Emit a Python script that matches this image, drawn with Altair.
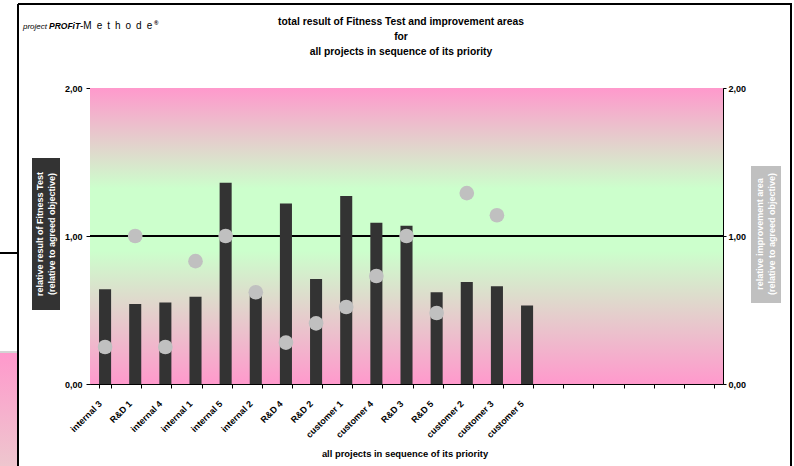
import altair as alt
import pandas as pd

# ---- data -------------------------------------------------------------
projects = ["internal 3", "R&D 1", "internal 4", "internal 1", "internal 5",
            "internal 2", "R&D 4", "R&D 2", "customer 1", "customer 4",
            "R&D 3", "R&D 5", "customer 2", "customer 3", "customer 5"]
fitness = [0.64, 0.54, 0.55, 0.59, 1.36, 0.60, 1.22, 0.71, 1.27, 1.09,
           1.07, 0.62, 0.69, 0.66, 0.53]
improvement = [0.25, 1.00, 0.25, 0.83, 1.00, 0.62, 0.28, 0.41, 0.52, 0.73,
               1.00, 0.48, 1.29, 1.14, None]
# unused category slots on the right of the axis
empty_slots = ["_1", "_2", "_3", "_4", "_5", "_6"]
y_ticks = [0, 1, 2]

title_lines = ["total result of Fitness Test and  improvement areas", "for",
               "all projects in sequence of its priority"]
x_title = "all projects in sequence of its priority"
left_title = ["relative result of Fitness Test", "(relative to agreed objective)"]
right_title = ["relative improvement area", "(relative to agreed objective)"]

# ---- layout -----------------------------------------------------------
W, H = 633, 296
FONT = "Liberation Sans"
PINK = "#FF99CC"
GREEN = "#CCFFCC"

bars_df = pd.DataFrame({"project": projects, "fitness": fitness})
dots_df = pd.DataFrame({"project": projects, "improvement": improvement}).dropna()
one = pd.DataFrame({"v": [1]})

domain = projects + empty_slots
y_scale = alt.Scale(domain=[0, 2], nice=False)
num_label = "replace(format(datum.value, '.2f'), '.', ',')"

x_enc = alt.X(
    "project:N",
    sort=domain,
    scale=alt.Scale(domain=domain, paddingInner=0.6, paddingOuter=0.3),
    axis=alt.Axis(
        title=None, labelAngle=-45, labelFontSize=9, labelFontWeight="bold",
        labelFont=FONT, labelColor="black", tickBand="extent", tickSize=4,
        labelPadding=11, labelOffset=-8, domainColor="black", tickColor="black",
        labelExpr="slice(datum.label, 0, 1) == '_' ? '' : datum.label",
    ),
)

# plot-area gradient fill
background = alt.Chart(one).mark_rect(
    fill=alt.LinearGradient(
        gradient="linear", x1=0, x2=0, y1=0, y2=1,
        stops=[alt.GradientStop(offset=0, color=PINK),
               alt.GradientStop(offset=0.34, color=GREEN),
               alt.GradientStop(offset=0.55, color=GREEN),
               alt.GradientStop(offset=1, color=PINK)],
    )
).encode(x=alt.value(0), x2=alt.value(W), y=alt.value(0), y2=alt.value(H))

target_line = alt.Chart(one).mark_rule(color="black", strokeWidth=2).encode(
    y=alt.Y("v:Q", scale=y_scale, axis=None)
)

bars = alt.Chart(bars_df).mark_bar(color="#333333").encode(
    x=x_enc,
    y=alt.Y("fitness:Q", scale=y_scale,
            axis=alt.Axis(orient="left", values=y_ticks, title=None, grid=False,
                          labelExpr=num_label, labelFont=FONT, labelFontSize=9,
                          labelFontWeight="bold", labelColor="black", tickSize=4,
                          labelPadding=4, domainColor="black", tickColor="black")),
)

dots = alt.Chart(dots_df).mark_circle(size=215, color="#C0C0C0", opacity=1).encode(
    x=x_enc,
    y=alt.Y("improvement:Q", scale=y_scale,
            axis=alt.Axis(orient="right", values=y_ticks, title=None, grid=False,
                          labelExpr=num_label, labelFont=FONT, labelFontSize=9,
                          labelFontWeight="bold", labelColor="black", tickSize=3,
                          labelPadding=2, domainColor="black", tickColor="black")),
)


def text(t, x, y, size=9, weight="bold", color="black", angle=0, align="center",
         style="normal", baseline="middle"):
    return alt.Chart(one).mark_text(
        text=t, font=FONT, fontSize=size, fontWeight=weight, color=color,
        angle=angle, align=align, baseline=baseline, fontStyle=style,
    ).encode(x=alt.value(x), y=alt.value(y))


def box(x1, x2, y1, y2, color):
    return alt.Chart(one).mark_rect(color=color).encode(
        x=alt.value(x1), x2=alt.value(x2), y=alt.value(y1), y2=alt.value(y2))


def line(x1, x2, y1, y2, color="black", width=2):
    return alt.Chart(one).mark_rule(color=color, strokeWidth=width).encode(
        x=alt.value(x1), x2=alt.value(x2), y=alt.value(y1), y2=alt.value(y2))


# sheet elements around the chart frame
side_panel = alt.Chart(one).mark_rect(
    fill=alt.LinearGradient(
        gradient="linear", x1=0, x2=0, y1=0, y2=1,
        stops=[alt.GradientStop(offset=0, color=PINK),
               alt.GradientStop(offset=1, color="#EEC6CE")],
    )
).encode(x=alt.value(-90), x2=alt.value(-72), y=alt.value(265), y2=alt.value(378))

decor = [
    side_panel,
    line(-90, -72, 264, 264, color="#AAAAAA", width=1),
    line(-90, -72, 165, 165, width=2),
    line(-72, -72, -84, 378, width=2),
    line(-72, 702, -84, -84, width=2),
    line(701, 701, -84, 378, width=2),
    # axis title boxes, one text mark per line
    box(-58, -30, 70, 222, "#333333"),
    text(left_title[0], -50, 146, size=9, color="white", angle=270),
    text(left_title[1], -38, 146, size=9, color="white", angle=270),
    box(661, 691, 78, 215, "#C0C0C0"),
    text(right_title[0], 670, 146, size=9, color="white", angle=270),
    text(right_title[1], 682, 146, size=9, color="white", angle=270),
    # titles
    text(title_lines[0], 311, -66, size=10.3),
    text(title_lines[1], 311, -51, size=10.3),
    text(title_lines[2], 311, -36, size=10.3),
    text(x_title, 315, 366, size=9.4),
    # logo
    text("project", -67, -61, size=8, weight="normal", style="italic", align="left"),
    text("PROFiT", -41, -62, size=8.5, style="italic", align="left"),
    text("-M\u2002e\u2002t\u2002h\u2002o\u2002d\u2002e", -10, -62, size=10,
         weight="normal", align="left"),
    text("\u00ae", 64, -65, size=6, align="left"),
]

chart = alt.layer(
    background, target_line, bars, dots, *decor
).resolve_scale(y="independent").properties(
    width=W, height=H,
    autosize=alt.AutoSizeParams(type="none"),
    padding={"left": 90, "top": 88, "right": 71, "bottom": 82},
    background="white",
).configure_view(stroke="#666666", strokeWidth=1)

chart.save("out.html", embed_options={"renderer": "svg", "actions": False})
